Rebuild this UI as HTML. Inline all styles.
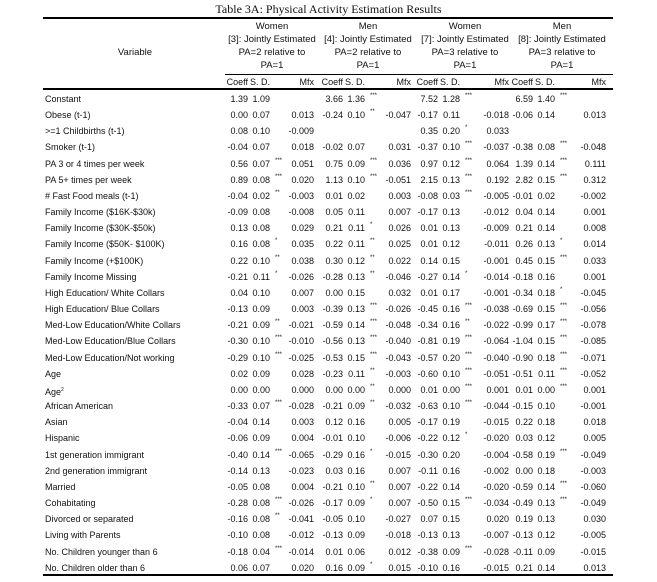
<!DOCTYPE html>
<html><head><meta charset="utf-8"><style>
body{margin:0;background:#fff;}
#w{position:relative;width:657px;height:582px;overflow:hidden;font-family:"Liberation Sans",sans-serif;font-size:9px;color:#111;}
.r{position:absolute;left:0;width:657px;height:12px;line-height:12px;}
.r span{position:absolute;top:0;width:40px;text-align:right;white-space:nowrap;}
.r span.l{left:45px;width:200px;text-align:left;}
.r span.t1,.r span.t2,.r span.t3,.r span.t4{width:20px;text-align:left;font-size:6px;line-height:8px;top:-1px;}
.c1{left:208px}.c2{left:303px}.c3{left:398px}.c4{left:493px}
.s1{left:230px}.s2{left:325px}.s3{left:420px}.s4{left:515px}
.r span.t1{left:275px}.r span.t2{left:370px}.r span.t3{left:465px}.r span.t4{left:560px}
.m1{left:274px}.m2{left:371px}.m3{left:469px}.m4{left:566px}
.rule{position:absolute;background:#000;height:1.5px;}
.h{position:absolute;text-align:center;width:110px;font-size:9.5px;line-height:12px;white-space:nowrap;}
</style></head><body><div id="w">
<div style="position:absolute;top:2px;left:0;width:657px;text-align:center;font-family:'Liberation Serif',serif;font-size:12px;">Table 3A: Physical Activity Estimation Results</div>
<div class="rule" style="top:17px;left:43px;width:570px"></div>
<div class="h" style="left:80px;top:47px">Variable</div>
<div class="h" style="left:217px;top:21px">Women</div>
<div class="h" style="left:217px;top:34px">[3]: Jointly Estimated</div>
<div class="h" style="left:217px;top:47px">PA=2 relative to</div>
<div class="h" style="left:217px;top:60px">PA=1</div>
<div class="h" style="left:313px;top:21px">Men</div>
<div class="h" style="left:313px;top:34px">[4]: Jointly Estimated</div>
<div class="h" style="left:313px;top:47px">PA=2 relative to</div>
<div class="h" style="left:313px;top:60px">PA=1</div>
<div class="h" style="left:410px;top:21px">Women</div>
<div class="h" style="left:410px;top:34px">[7]: Jointly Estimated</div>
<div class="h" style="left:410px;top:47px">PA=3 relative to</div>
<div class="h" style="left:410px;top:60px">PA=1</div>
<div class="h" style="left:507px;top:21px">Men</div>
<div class="h" style="left:507px;top:34px">[8]: Jointly Estimated</div>
<div class="h" style="left:507px;top:47px">PA=3 relative to</div>
<div class="h" style="left:507px;top:60px">PA=1</div>
<div class="rule" style="top:74px;left:225px;width:388px;height:1px"></div>
<div class="r" style="top:76px"><span class="c1">Coeff</span><span class="s1">S. D.</span><span class="m1">Mfx</span><span class="c2">Coeff</span><span class="s2">S. D.</span><span class="m2">Mfx</span><span class="c3">Coeff</span><span class="s3">S. D.</span><span class="m3">Mfx</span><span class="c4">Coeff</span><span class="s4">S. D.</span><span class="m4">Mfx</span></div>
<div class="rule" style="top:88px;left:43px;width:570px"></div>

<div class="r" style="top:93px"><span class="l">Constant</span><span class="c1">1.39</span><span class="s1">1.09</span><span class="c2">3.66</span><span class="s2">1.36</span><span class="t2">***</span><span class="c3">7.52</span><span class="s3">1.28</span><span class="t3">***</span><span class="c4">6.59</span><span class="s4">1.40</span><span class="t4">***</span></div>
<div class="r" style="top:109px"><span class="l">Obese (t-1)</span><span class="c1">0.00</span><span class="s1">0.07</span><span class="m1">0.013</span><span class="c2">-0.24</span><span class="s2">0.10</span><span class="t2">**</span><span class="m2">-0.047</span><span class="c3">-0.17</span><span class="s3">0.11</span><span class="m3">-0.018</span><span class="c4">-0.06</span><span class="s4">0.14</span><span class="m4">0.013</span></div>
<div class="r" style="top:125px"><span class="l">&gt;=1 Childbirths (t-1)</span><span class="c1">0.08</span><span class="s1">0.10</span><span class="m1">-0.009</span><span class="c3">0.35</span><span class="s3">0.20</span><span class="t3">*</span><span class="m3">0.033</span></div>
<div class="r" style="top:141px"><span class="l">Smoker (t-1)</span><span class="c1">-0.04</span><span class="s1">0.07</span><span class="m1">0.018</span><span class="c2">-0.02</span><span class="s2">0.07</span><span class="m2">0.031</span><span class="c3">-0.37</span><span class="s3">0.10</span><span class="t3">***</span><span class="m3">-0.037</span><span class="c4">-0.38</span><span class="s4">0.08</span><span class="t4">***</span><span class="m4">-0.048</span></div>
<div class="r" style="top:158px"><span class="l">PA 3 or 4 times per week</span><span class="c1">0.56</span><span class="s1">0.07</span><span class="t1">***</span><span class="m1">0.051</span><span class="c2">0.75</span><span class="s2">0.09</span><span class="t2">***</span><span class="m2">0.036</span><span class="c3">0.97</span><span class="s3">0.12</span><span class="t3">***</span><span class="m3">0.064</span><span class="c4">1.39</span><span class="s4">0.14</span><span class="t4">***</span><span class="m4">0.111</span></div>
<div class="r" style="top:174px"><span class="l">PA 5+ times per week</span><span class="c1">0.89</span><span class="s1">0.08</span><span class="t1">***</span><span class="m1">0.020</span><span class="c2">1.13</span><span class="s2">0.10</span><span class="t2">***</span><span class="m2">-0.051</span><span class="c3">2.15</span><span class="s3">0.13</span><span class="t3">***</span><span class="m3">0.192</span><span class="c4">2.82</span><span class="s4">0.15</span><span class="t4">***</span><span class="m4">0.312</span></div>
<div class="r" style="top:190px"><span class="l"># Fast Food meals (t-1)</span><span class="c1">-0.04</span><span class="s1">0.02</span><span class="t1">**</span><span class="m1">-0.003</span><span class="c2">0.01</span><span class="s2">0.02</span><span class="m2">0.003</span><span class="c3">-0.08</span><span class="s3">0.03</span><span class="t3">***</span><span class="m3">-0.005</span><span class="c4">-0.01</span><span class="s4">0.02</span><span class="m4">-0.002</span></div>
<div class="r" style="top:206px"><span class="l">Family Income ($16K-$30k)</span><span class="c1">-0.09</span><span class="s1">0.08</span><span class="m1">-0.008</span><span class="c2">0.05</span><span class="s2">0.11</span><span class="m2">0.007</span><span class="c3">-0.17</span><span class="s3">0.13</span><span class="m3">-0.012</span><span class="c4">0.04</span><span class="s4">0.14</span><span class="m4">0.001</span></div>
<div class="r" style="top:222px"><span class="l">Family Income ($30K-$50k)</span><span class="c1">0.13</span><span class="s1">0.08</span><span class="m1">0.029</span><span class="c2">0.21</span><span class="s2">0.11</span><span class="t2">*</span><span class="m2">0.026</span><span class="c3">0.01</span><span class="s3">0.13</span><span class="m3">-0.009</span><span class="c4">0.21</span><span class="s4">0.14</span><span class="m4">0.008</span></div>
<div class="r" style="top:238px"><span class="l">Family Income ($50K- $100K)</span><span class="c1">0.16</span><span class="s1">0.08</span><span class="t1">*</span><span class="m1">0.035</span><span class="c2">0.22</span><span class="s2">0.11</span><span class="t2">**</span><span class="m2">0.025</span><span class="c3">0.01</span><span class="s3">0.12</span><span class="m3">-0.011</span><span class="c4">0.26</span><span class="s4">0.13</span><span class="t4">*</span><span class="m4">0.014</span></div>
<div class="r" style="top:255px"><span class="l">Family Income (+$100K)</span><span class="c1">0.22</span><span class="s1">0.10</span><span class="t1">**</span><span class="m1">0.038</span><span class="c2">0.30</span><span class="s2">0.12</span><span class="t2">**</span><span class="m2">0.022</span><span class="c3">0.14</span><span class="s3">0.15</span><span class="m3">-0.001</span><span class="c4">0.45</span><span class="s4">0.15</span><span class="t4">***</span><span class="m4">0.033</span></div>
<div class="r" style="top:271px"><span class="l">Family Income Missing</span><span class="c1">-0.21</span><span class="s1">0.11</span><span class="t1">*</span><span class="m1">-0.026</span><span class="c2">-0.28</span><span class="s2">0.13</span><span class="t2">**</span><span class="m2">-0.046</span><span class="c3">-0.27</span><span class="s3">0.14</span><span class="t3">*</span><span class="m3">-0.014</span><span class="c4">-0.18</span><span class="s4">0.16</span><span class="m4">0.001</span></div>
<div class="r" style="top:287px"><span class="l">High Education/ White Collars</span><span class="c1">0.04</span><span class="s1">0.10</span><span class="m1">0.007</span><span class="c2">0.00</span><span class="s2">0.15</span><span class="m2">0.032</span><span class="c3">0.01</span><span class="s3">0.17</span><span class="m3">-0.001</span><span class="c4">-0.34</span><span class="s4">0.18</span><span class="t4">*</span><span class="m4">-0.045</span></div>
<div class="r" style="top:303px"><span class="l">High Education/ Blue Collars</span><span class="c1">-0.13</span><span class="s1">0.09</span><span class="m1">0.003</span><span class="c2">-0.39</span><span class="s2">0.13</span><span class="t2">***</span><span class="m2">-0.026</span><span class="c3">-0.45</span><span class="s3">0.16</span><span class="t3">***</span><span class="m3">-0.038</span><span class="c4">-0.69</span><span class="s4">0.15</span><span class="t4">***</span><span class="m4">-0.056</span></div>
<div class="r" style="top:319px"><span class="l">Med-Low Education/White Collars</span><span class="c1">-0.21</span><span class="s1">0.09</span><span class="t1">**</span><span class="m1">-0.021</span><span class="c2">-0.59</span><span class="s2">0.14</span><span class="t2">***</span><span class="m2">-0.048</span><span class="c3">-0.34</span><span class="s3">0.16</span><span class="t3">**</span><span class="m3">-0.022</span><span class="c4">-0.99</span><span class="s4">0.17</span><span class="t4">***</span><span class="m4">-0.078</span></div>
<div class="r" style="top:335px"><span class="l">Med-Low Education/Blue Collars</span><span class="c1">-0.30</span><span class="s1">0.10</span><span class="t1">***</span><span class="m1">-0.010</span><span class="c2">-0.56</span><span class="s2">0.13</span><span class="t2">***</span><span class="m2">-0.040</span><span class="c3">-0.81</span><span class="s3">0.19</span><span class="t3">***</span><span class="m3">-0.064</span><span class="c4">-1.04</span><span class="s4">0.15</span><span class="t4">***</span><span class="m4">-0.085</span></div>
<div class="r" style="top:352px"><span class="l">Med-Low Education/Not working</span><span class="c1">-0.29</span><span class="s1">0.10</span><span class="t1">***</span><span class="m1">-0.025</span><span class="c2">-0.53</span><span class="s2">0.15</span><span class="t2">***</span><span class="m2">-0.043</span><span class="c3">-0.57</span><span class="s3">0.20</span><span class="t3">***</span><span class="m3">-0.040</span><span class="c4">-0.90</span><span class="s4">0.18</span><span class="t4">***</span><span class="m4">-0.071</span></div>
<div class="r" style="top:368px"><span class="l">Age</span><span class="c1">0.02</span><span class="s1">0.09</span><span class="m1">0.028</span><span class="c2">-0.23</span><span class="s2">0.11</span><span class="t2">**</span><span class="m2">-0.003</span><span class="c3">-0.60</span><span class="s3">0.10</span><span class="t3">***</span><span class="m3">-0.051</span><span class="c4">-0.51</span><span class="s4">0.11</span><span class="t4">***</span><span class="m4">-0.052</span></div>
<div class="r" style="top:384px"><span class="l">Age<sup style="font-size:5px">2</sup></span><span class="c1">0.00</span><span class="s1">0.00</span><span class="m1">0.000</span><span class="c2">0.00</span><span class="s2">0.00</span><span class="t2">**</span><span class="m2">0.000</span><span class="c3">0.01</span><span class="s3">0.00</span><span class="t3">***</span><span class="m3">0.001</span><span class="c4">0.01</span><span class="s4">0.00</span><span class="t4">***</span><span class="m4">0.001</span></div>
<div class="r" style="top:400px"><span class="l">African American</span><span class="c1">-0.33</span><span class="s1">0.07</span><span class="t1">***</span><span class="m1">-0.028</span><span class="c2">-0.21</span><span class="s2">0.09</span><span class="t2">**</span><span class="m2">-0.032</span><span class="c3">-0.63</span><span class="s3">0.10</span><span class="t3">***</span><span class="m3">-0.044</span><span class="c4">-0.15</span><span class="s4">0.10</span><span class="m4">-0.001</span></div>
<div class="r" style="top:416px"><span class="l">Asian</span><span class="c1">-0.04</span><span class="s1">0.14</span><span class="m1">0.003</span><span class="c2">0.12</span><span class="s2">0.16</span><span class="m2">0.005</span><span class="c3">-0.17</span><span class="s3">0.19</span><span class="m3">-0.015</span><span class="c4">0.22</span><span class="s4">0.18</span><span class="m4">0.018</span></div>
<div class="r" style="top:432px"><span class="l">Hispanic</span><span class="c1">-0.06</span><span class="s1">0.09</span><span class="m1">0.004</span><span class="c2">-0.01</span><span class="s2">0.10</span><span class="m2">-0.006</span><span class="c3">-0.22</span><span class="s3">0.12</span><span class="t3">*</span><span class="m3">-0.020</span><span class="c4">0.03</span><span class="s4">0.12</span><span class="m4">0.005</span></div>
<div class="r" style="top:449px"><span class="l">1st generation immigrant</span><span class="c1">-0.40</span><span class="s1">0.14</span><span class="t1">***</span><span class="m1">-0.065</span><span class="c2">-0.29</span><span class="s2">0.16</span><span class="t2">*</span><span class="m2">-0.015</span><span class="c3">-0.30</span><span class="s3">0.20</span><span class="m3">-0.004</span><span class="c4">-0.58</span><span class="s4">0.19</span><span class="t4">***</span><span class="m4">-0.049</span></div>
<div class="r" style="top:465px"><span class="l">2nd generation immigrant</span><span class="c1">-0.14</span><span class="s1">0.13</span><span class="m1">-0.023</span><span class="c2">0.03</span><span class="s2">0.16</span><span class="m2">0.007</span><span class="c3">-0.11</span><span class="s3">0.16</span><span class="m3">-0.002</span><span class="c4">0.00</span><span class="s4">0.18</span><span class="m4">-0.003</span></div>
<div class="r" style="top:481px"><span class="l">Married</span><span class="c1">-0.05</span><span class="s1">0.08</span><span class="m1">0.004</span><span class="c2">-0.21</span><span class="s2">0.10</span><span class="t2">**</span><span class="m2">0.007</span><span class="c3">-0.22</span><span class="s3">0.14</span><span class="m3">-0.020</span><span class="c4">-0.59</span><span class="s4">0.14</span><span class="t4">***</span><span class="m4">-0.060</span></div>
<div class="r" style="top:497px"><span class="l">Cohabitating</span><span class="c1">-0.28</span><span class="s1">0.08</span><span class="t1">***</span><span class="m1">-0.026</span><span class="c2">-0.17</span><span class="s2">0.09</span><span class="t2">*</span><span class="m2">0.007</span><span class="c3">-0.50</span><span class="s3">0.15</span><span class="t3">***</span><span class="m3">-0.034</span><span class="c4">-0.49</span><span class="s4">0.13</span><span class="t4">***</span><span class="m4">-0.049</span></div>
<div class="r" style="top:513px"><span class="l">Divorced or separated</span><span class="c1">-0.16</span><span class="s1">0.08</span><span class="t1">**</span><span class="m1">-0.041</span><span class="c2">-0.05</span><span class="s2">0.10</span><span class="m2">-0.027</span><span class="c3">0.07</span><span class="s3">0.15</span><span class="m3">0.020</span><span class="c4">0.19</span><span class="s4">0.13</span><span class="m4">0.030</span></div>
<div class="r" style="top:529px"><span class="l">Living with Parents</span><span class="c1">-0.10</span><span class="s1">0.08</span><span class="m1">-0.012</span><span class="c2">-0.13</span><span class="s2">0.09</span><span class="m2">-0.018</span><span class="c3">-0.13</span><span class="s3">0.13</span><span class="m3">-0.007</span><span class="c4">-0.13</span><span class="s4">0.12</span><span class="m4">-0.005</span></div>
<div class="r" style="top:546px"><span class="l">No. Children younger than 6</span><span class="c1">-0.18</span><span class="s1">0.04</span><span class="t1">***</span><span class="m1">-0.014</span><span class="c2">0.01</span><span class="s2">0.06</span><span class="m2">0.012</span><span class="c3">-0.38</span><span class="s3">0.09</span><span class="t3">***</span><span class="m3">-0.028</span><span class="c4">-0.11</span><span class="s4">0.09</span><span class="m4">-0.015</span></div>
<div class="r" style="top:562px"><span class="l">No. Children older than 6</span><span class="c1">0.06</span><span class="s1">0.07</span><span class="m1">0.020</span><span class="c2">0.16</span><span class="s2">0.09</span><span class="t2">*</span><span class="m2">0.015</span><span class="c3">-0.10</span><span class="s3">0.16</span><span class="m3">-0.015</span><span class="c4">0.21</span><span class="s4">0.14</span><span class="m4">0.013</span></div>
<div class="rule" style="top:574px;left:43px;width:570px"></div>
</div></body></html>
